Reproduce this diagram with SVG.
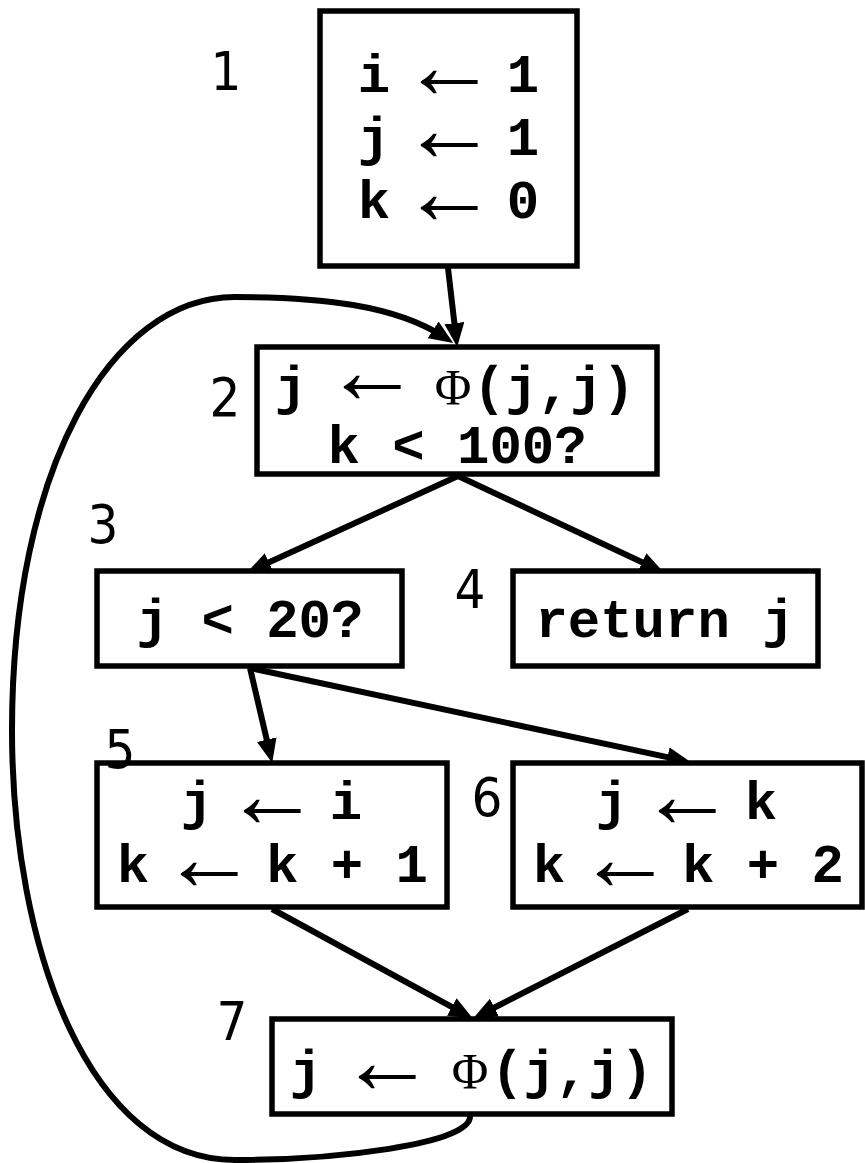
<svg xmlns="http://www.w3.org/2000/svg" width="865" height="1163" viewBox="0 0 865 1163">
<style>
.box{fill:#fff;stroke:#000;stroke-width:5.5}
.code{font-family:"Liberation Mono","Courier New",monospace;font-weight:bold;font-size:54px;fill:#000;text-anchor:middle}
.arr{font-family:"Liberation Serif","DejaVu Serif",serif;font-weight:normal;font-size:96px;fill:#000;text-anchor:middle}
.phi{font-family:"Liberation Serif","Times New Roman",serif;font-weight:normal;font-size:50px}
.lbl{font-family:"DejaVu Sans Condensed","DejaVu Sans",sans-serif;font-size:54px;fill:#000;text-anchor:middle}
.edge{fill:none;stroke:#000;stroke-width:6}
</style>
<defs>
<marker id="ah" markerWidth="24" markerHeight="20" refX="13" refY="10" orient="auto" markerUnits="userSpaceOnUse">
<path d="M0,0 L24,10 L0,20 z" fill="#000"/>
</marker>
</defs>
<g id="connectors">
<path class="edge" d="M448,268 L455.9,336.1" marker-end="url(#ah)"/>
<path class="edge" d="M458,476 L257.1,567.8" marker-end="url(#ah)"/>
<path class="edge" d="M458,476 L653.9,567.8" marker-end="url(#ah)"/>
<path class="edge" d="M250,668 L269.7,752.3" marker-end="url(#ah)"/>
<path class="edge" d="M250,668 L680.2,759.9" marker-end="url(#ah)"/>
<path class="edge" d="M272,909 L463.2,1013.2" marker-end="url(#ah)"/>
<path class="edge" d="M688,909 L482.9,1013.5" marker-end="url(#ah)"/>
<path class="edge" d="M470,1116 C472,1145 330,1160 235,1160 C90,1160 12,950 12,730 C12,470 110,297 235,297 C320,297 395,305 444,337" marker-end="url(#ah)"/>
</g>
<g id="node1">
<rect class="box" x="320" y="11" width="257" height="255"/>
<text class="code" y="92"><tspan x="374">i</tspan><tspan x="523">1</tspan></text>
<text class="arr" x="449" y="98">←</text>
<text class="code" y="155"><tspan x="374">j</tspan><tspan x="523">1</tspan></text>
<text class="arr" x="449" y="161">←</text>
<text class="code" y="218"><tspan x="374">k</tspan><tspan x="523">0</tspan></text>
<text class="arr" x="449" y="224">←</text>
<text class="lbl" x="226" y="90">1</text>
</g>
<g id="node2">
<rect class="box" x="257" y="347" width="400" height="127"/>
<text class="code" y="404"><tspan x="291">j</tspan><tspan class="phi" x="453">Φ</tspan><tspan x="554">(j,j)</tspan></text>
<text class="arr" x="372" y="403" font-weight="bold" font-size="100">←</text>
<text class="code" x="457" y="463">k &lt; 100?</text>
<text class="lbl" x="225" y="416">2</text>
</g>
<g id="node3">
<rect class="box" x="97" y="571" width="305" height="95"/>
<text class="code" x="250" y="637">j &lt; 20?</text>
<text class="lbl" x="103" y="543">3</text>
</g>
<g id="node4">
<rect class="box" x="513" y="571" width="305" height="95"/>
<text class="code" x="665" y="637">return j</text>
<text class="lbl" x="470" y="608">4</text>
</g>
<g id="node5">
<rect class="box" x="97" y="763" width="350" height="144"/>
<text class="code" y="819"><tspan x="197">j</tspan><tspan x="346">i</tspan></text>
<text class="arr" x="272" y="827">←</text>
<text class="code" y="882"><tspan x="133">k</tspan><tspan x="347">k + 1</tspan></text>
<text class="arr" x="209" y="890">←</text>
<text class="lbl" x="120" y="768">5</text>
</g>
<g id="node6">
<rect class="box" x="513" y="763" width="349" height="144"/>
<text class="code" y="819"><tspan x="612">j</tspan><tspan x="761">k</tspan></text>
<text class="arr" x="687" y="827">←</text>
<text class="code" y="882"><tspan x="549">k</tspan><tspan x="763">k + 2</tspan></text>
<text class="arr" x="625" y="890">←</text>
<text class="lbl" x="487" y="816">6</text>
</g>
<g id="node7">
<rect class="box" x="272" y="1019" width="400" height="95"/>
<text class="code" y="1088"><tspan x="306">j</tspan><tspan class="phi" x="470">Φ</tspan><tspan x="572">(j,j)</tspan></text>
<text class="arr" x="387" y="1093">←</text>
<text class="lbl" x="232" y="1040">7</text>
</g>
</svg>
